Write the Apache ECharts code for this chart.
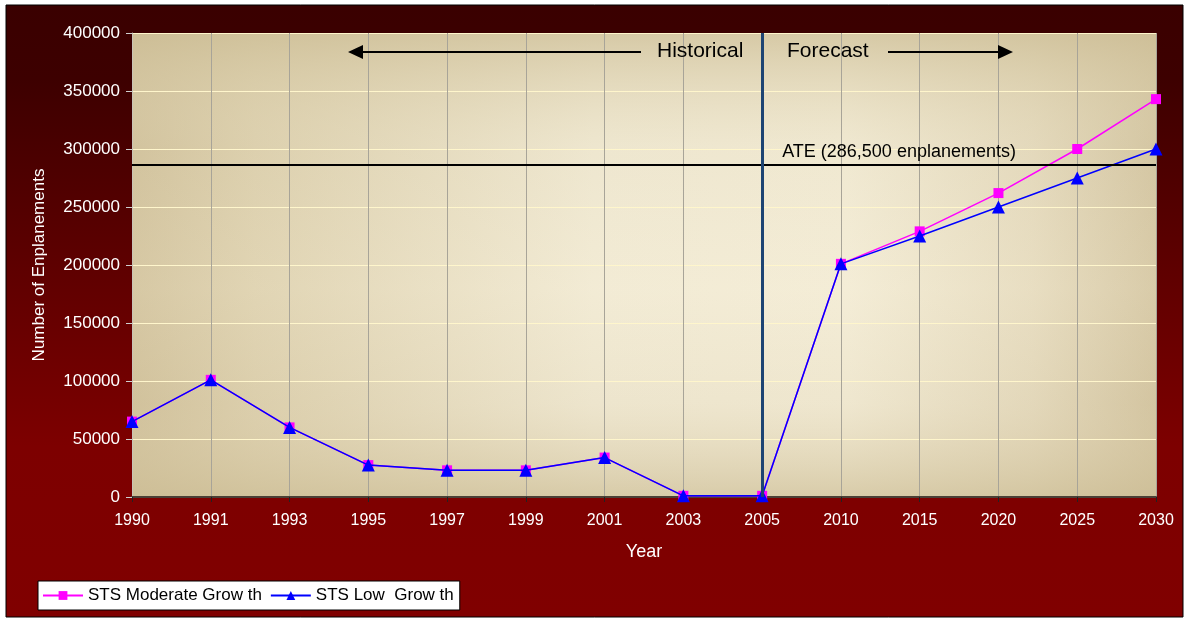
<!DOCTYPE html>
<html>
<head>
<meta charset="utf-8">
<script src="https://cdn.jsdelivr.net/npm/echarts@6/dist/echarts.min.js"></script>
<style>
html,body{margin:0;padding:0;background:#fff;}
#c{width:1188px;height:621px;}
</style>
</head>
<body>
<div id="c"></div>
<script>
// ---- data ----
var years = ['1990','1991','1993','1995','1997','1999','2001','2003','2005','2010','2015','2020','2025','2030'];
var moderate = [65000, 101000, 60000, 27500, 23000, 23000, 34000, 1000, 1000, 201000, 229000, 262000, 300000, 343000];
var low      = [65000, 101000, 60000, 27500, 23000, 23000, 34000, 1000, 1000, 201000, 225000, 250000, 275000, 300000];
var ateValue = 286500;
var ateLabel = 'ATE (286,500 enplanements)';
var dividerYear = '2005';
var seriesNames = ['STS Moderate Grow th', 'STS Low  Grow th'];

// ---- layout ----
var G = {left:132, top:33, right:32, bottom:124};
var W = 1188, H = 621;
var gw = W - G.left - G.right, gh = H - G.top - G.bottom;
var FONT = '"Liberation Sans", Arial, sans-serif';

var chart = echarts.init(document.getElementById('c'));
var option = {
  animation:false,
  backgroundColor:'#ffffff',
  textStyle:{fontFamily:FONT},
  graphic:[
    {type:'rect', z:-10, z2:0, shape:{x:6,y:5,width:1177,height:612},
      style:{fill:new echarts.graphic.LinearGradient(0,0,0,1,[
        {offset:0,color:'#3a0000'},{offset:0.12,color:'#3d0000'},
        {offset:0.72,color:'#7d0000'},{offset:1,color:'#800000'}]),
        stroke:'#000', lineWidth:1}},
    {type:'rect', z:-10, z2:1, shape:{x:G.left,y:G.top,width:gw,height:gh},
      style:{fill:new echarts.graphic.LinearGradient(0,0,1,0,[
        {offset:0,color:'#cdbd96'},{offset:0.12,color:'#dacdaa'},
        {offset:0.45,color:'#f0e9d3'},{offset:0.7,color:'#f2ebd5'},
        {offset:0.88,color:'#e3d8bb'},{offset:1,color:'#d0c19c'}])}},
    {type:'rect', z:-10, z2:2, shape:{x:G.left,y:G.top,width:gw,height:gh},
      style:{fill:new echarts.graphic.LinearGradient(0,0,0,1,[
        {offset:0,color:'rgba(205,190,150,0.75)'},{offset:0.25,color:'rgba(230,220,190,0.2)'},
        {offset:0.55,color:'rgba(252,244,220,0.2)'},{offset:0.8,color:'rgba(225,212,180,0.2)'},
        {offset:1,color:'rgba(205,190,150,0.7)'}])}},
    // Historical arrow
    {type:'polygon', z:10, shape:{points:[[348,52],[363,45],[363,59]]}, style:{fill:'#000'}},
    {type:'line', z:10, shape:{x1:360,y1:52,x2:641,y2:52}, style:{stroke:'#000',lineWidth:2}},
    {type:'text', z:10, x:657, y:51, style:{text:'Historical', font:'21px '+FONT, fill:'#000', verticalAlign:'middle', align:'left'}},
    {type:'text', z:10, x:787, y:51, style:{text:'Forecast', font:'21px '+FONT, fill:'#000', verticalAlign:'middle', align:'left'}},
    {type:'line', z:10, shape:{x1:888,y1:52,x2:1000,y2:52}, style:{stroke:'#000',lineWidth:2}},
    {type:'polygon', z:10, shape:{points:[[1013,52],[998,45],[998,59]]}, style:{fill:'#000'}}
  ],
  grid:{left:G.left, top:G.top, right:G.right, bottom:G.bottom, containLabel:false},
  legend:{
    left:38, top:581, orient:'horizontal',
    backgroundColor:'#fff', borderColor:'#000', borderWidth:1,
    padding:[6,6,6,4], itemGap:8, itemWidth:40, itemHeight:11,
    textStyle:{color:'#000', fontSize:17, fontFamily:FONT},
    data:seriesNames
  },
  xAxis:{
    type:'category', data:years, boundaryGap:false,
    axisLine:{lineStyle:{color:'#4a4036', width:2}},
    axisTick:{show:true, length:5, lineStyle:{color:'#222'}},
    axisLabel:{color:'#fff', fontSize:16, margin:16, fontFamily:FONT},
    splitLine:{show:true, lineStyle:{color:'#a8a498', width:1}},
    name:'Year', nameLocation:'middle', nameGap:46,
    nameTextStyle:{color:'#fff', fontSize:18, fontFamily:FONT}
  },
  yAxis:{
    type:'value', min:0, max:400000, interval:50000,
    axisLine:{show:true, lineStyle:{color:'#c8c4b8', width:1}},
    axisTick:{show:true, length:6, lineStyle:{color:'#cfcfcf'}},
    axisLabel:{color:'#fff', fontSize:17, margin:12, fontFamily:FONT, formatter:function(v){return String(v);}},
    splitLine:{show:true, lineStyle:{color:'#fff6cc', width:1}},
    name:'Number of Enplanements', nameLocation:'middle', nameGap:84, nameRotate:90,
    nameTextStyle:{color:'#fff', fontSize:17, fontFamily:FONT}
  },
  series:[
    {
      name:seriesNames[0], type:'line', data:moderate,
      symbol:'rect', symbolSize:10,
      lineStyle:{color:'#ff00ff', width:1.5},
      itemStyle:{color:'#ff00ff'},
      z:3
    },
    {
      name:seriesNames[1], type:'line', data:low,
      symbol:'triangle', symbolSize:13,
      lineStyle:{color:'#0000ff', width:1.5},
      itemStyle:{color:'#0000ff'},
      z:4,
      markLine:{
        silent:true, symbol:['none','none'], animation:false,
        data:[
          {yAxis:ateValue, lineStyle:{color:'#000', width:2, type:'solid'}, label:{show:false}},
          [
            {coord:[dividerYear, ateValue], lineStyle:{color:'rgba(0,0,0,0)', width:0}, label:{show:true, position:'insideStartTop', formatter:ateLabel, color:'#000', fontSize:18, fontFamily:FONT, distance:[20,4]}},
            {coord:[years[years.length-1], ateValue]}
          ],
          {xAxis:dividerYear, lineStyle:{color:'#1d4473', width:3, type:'solid'}, label:{show:false}}
        ]
      }
    }
  ]
};
chart.setOption(option);
</script>
</body>
</html>
